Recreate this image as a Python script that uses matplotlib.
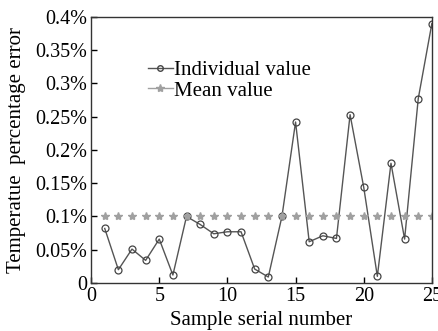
import matplotlib
matplotlib.use('Agg')
import matplotlib.pyplot as plt
from matplotlib.lines import Line2D
from matplotlib.ticker import FuncFormatter

samples = list(range(1, 26))
individual = [0.082, 0.020, 0.051, 0.034, 0.066, 0.012, 0.100, 0.088, 0.074, 0.077,
              0.077, 0.021, 0.009, 0.100, 0.242, 0.062, 0.071, 0.067, 0.253, 0.144,
              0.010, 0.180, 0.066, 0.277, 0.390]
mean_value = [0.1] * 25
y_ticks = [0, 0.05, 0.1, 0.15, 0.2, 0.25, 0.3, 0.35, 0.4]

plt.rcParams['font.family'] = ['Liberation Serif', 'DejaVu Serif']
plt.rcParams['font.size'] = 14.5

fig = plt.figure(figsize=(4.38, 3.31), dpi=100)
ax = fig.add_axes([0.208, 0.145, 0.778, 0.804])

ax.plot(samples, individual, color='#555555', lw=1.0, marker='o', ms=5,
        mfc='none', mec='#444444', mew=0.9)
ax.plot(samples, mean_value, color='#a0a0a0', ls='none', marker='*', ms=6)

ax.set_xlim(0, 25)
ax.set_ylim(0, 0.4)
ax.set_xticks([0, 5, 10, 15, 20, 25])
ax.set_yticks(y_ticks)
ax.yaxis.set_major_formatter(FuncFormatter(lambda v, p: '0' if v == 0 else ('%g%%' % v)))
ax.tick_params(direction='in', length=4, width=1, pad=3)
for s in ax.spines.values():
    s.set_linewidth(1.0)
    s.set_color('#333333')

ax.set_xlabel('Sample serial number', labelpad=3.5, fontsize=15)
ax.set_ylabel('Temperatue  percentage error', fontsize=15)
ax.yaxis.set_label_coords(-0.192, 0.5)

handles = [
    Line2D([], [], color='#555555', lw=1.0, marker='o', ms=4, mfc='none', mec='#444444'),
    Line2D([], [], color='#a0a0a0', lw=1.0, marker='*', ms=6),
]
ax.legend(handles, ['Individual value', 'Mean value'], loc='upper left',
          bbox_to_anchor=(0.135, 0.876), frameon=False, handlelength=1.2,
          handletextpad=0.05, labelspacing=0.05, borderpad=0, fontsize=15)

plt.savefig('out.png', dpi=100)
plt.close()
